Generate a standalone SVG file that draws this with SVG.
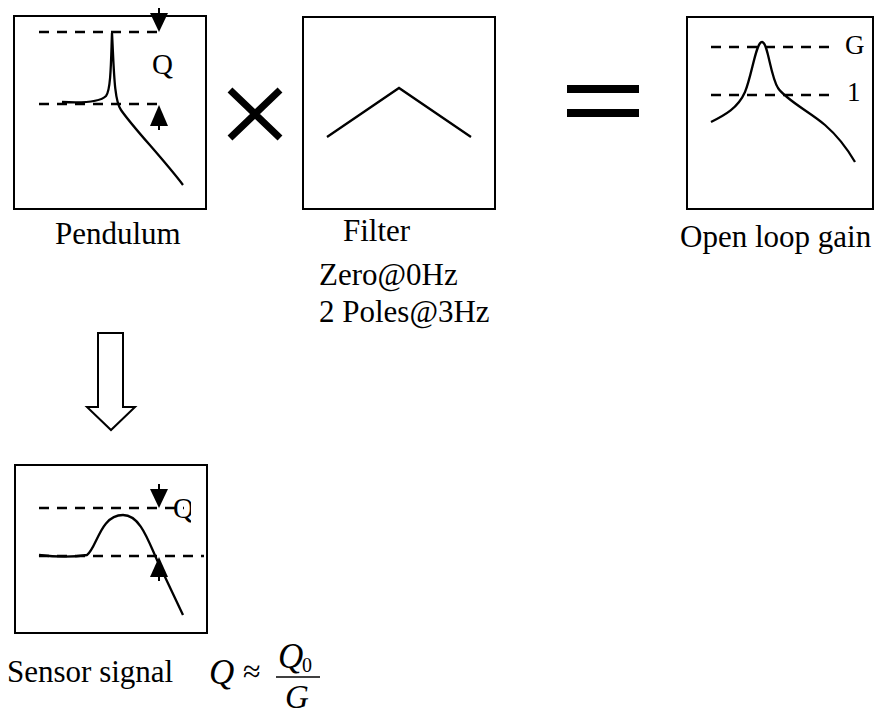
<svg xmlns="http://www.w3.org/2000/svg" width="879" height="715" viewBox="0 0 879 715">
<style>
.box{fill:#fff;stroke:#000;stroke-width:2}
.curve{fill:none;stroke:#000;stroke-width:2.3}
.dash{fill:none;stroke:#000;stroke-width:2.5;stroke-dasharray:10 8}
.lbl{font-family:"Liberation Serif","Times New Roman",serif;font-size:31px;fill:#000}
.math{font-family:"Liberation Serif","Times New Roman",serif;font-style:italic;font-size:35px;fill:#000}
.tri{fill:#000}
</style>
<defs>
<clipPath id="clipG"><rect x="0" y="0" width="864" height="715"/></clipPath>
<clipPath id="clipQ"><rect x="0" y="0" width="191" height="715"/></clipPath>
</defs>
<rect width="879" height="715" fill="#fff"/>

<g id="pendulum">
<rect class="box" x="14" y="16" width="192" height="193"/>
<line class="dash" x1="39" y1="32" x2="160" y2="32"/>
<line class="dash" x1="39" y1="104" x2="160" y2="104"/>
<path class="curve" d="M62,102 C80,103 100,102 106,96 C111,90 111,60 112,33 C114,70 114,100 121,110 C135,130 160,155 183,185"/>
<line x1="159" y1="8" x2="159" y2="14" stroke="#000" stroke-width="2"/>
<polygon class="tri" points="150,13 168,13 159,32"/>
<polygon class="tri" points="159,105 150,126 168,126"/>
<line x1="159" y1="125" x2="159" y2="130" stroke="#000" stroke-width="2"/>
<text class="lbl" x="152" y="74" style="font-size:29px">Q</text>
<text class="lbl" x="55" y="244">Pendulum</text>
</g>

<g id="times">
<path d="M230,90 L280,138 M280,90 L230,138" stroke="#000" stroke-width="7" fill="none"/>
</g>

<g id="filter">
<rect class="box" x="303" y="17" width="192" height="192"/>
<polyline class="curve" points="327,137 399,88 471,137" stroke-width="2"/>
<text class="lbl" x="343" y="241">Filter</text>
<text class="lbl" x="319" y="285">Zero@0Hz</text>
<text class="lbl" x="319" y="322">2 Poles@3Hz</text>
</g>

<g id="equals">
<rect x="567" y="85" width="72" height="8" fill="#000"/>
<rect x="567" y="109" width="72" height="8" fill="#000"/>
</g>

<g id="openloop">
<rect class="box" x="687" y="17" width="186" height="192"/>
<line class="dash" x1="711" y1="47" x2="834" y2="47"/>
<line class="dash" x1="711" y1="95" x2="834" y2="95"/>
<path class="curve" d="M711,122 C725,115 738,108 745,92 C752,75 756,42 762,42 C768,42 770,75 778,88 C786,100 810,112 825,125 C840,138 848,150 855,162"/>
<text class="lbl" x="845" y="54" style="font-size:27px" clip-path="url(#clipG)">G</text>
<text class="lbl" x="847" y="101" style="font-size:27px">1</text>
<text class="lbl" x="680" y="247">Open loop gain</text>
</g>

<g id="connectors">
<polygon points="98,333 123,333 123,407 135,407 111,430 87,407 98,407" fill="#fff" stroke="#000" stroke-width="2"/>
</g>

<g id="sensor">
<rect class="box" x="15" y="465" width="192" height="168"/>
<line class="dash" x1="39" y1="508" x2="184" y2="508"/>
<line class="dash" x1="39" y1="556" x2="204" y2="556"/>
<path class="curve" d="M39,555 C55,557 75,557 87,555 C97,548 100,515 123,515 C140,515 148,540 157,560 L183,615"/>
<line x1="159" y1="484" x2="159" y2="490" stroke="#000" stroke-width="2"/>
<polygon class="tri" points="150,489 168,489 159,508"/>
<polygon class="tri" points="159,557 150,577 168,577"/>
<line x1="159" y1="576" x2="159" y2="581" stroke="#000" stroke-width="2"/>
<text class="lbl" x="173" y="518" style="font-size:29px" clip-path="url(#clipQ)">Q</text>
<text class="lbl" x="7" y="682">Sensor signal</text>
<text class="math" x="209" y="684">Q</text>
<text x="243" y="682" style="font-family:'Liberation Serif',serif;font-size:32px">≈</text>
<text class="math" x="278" y="668">Q</text>
<text x="302" y="672" style="font-family:'Liberation Serif',serif;font-size:20px">0</text>
<line x1="276" y1="677" x2="320" y2="677" stroke="#000" stroke-width="1.5"/>
<text class="math" x="285" y="708" style="font-size:33px">G</text>
</g>
</svg>
